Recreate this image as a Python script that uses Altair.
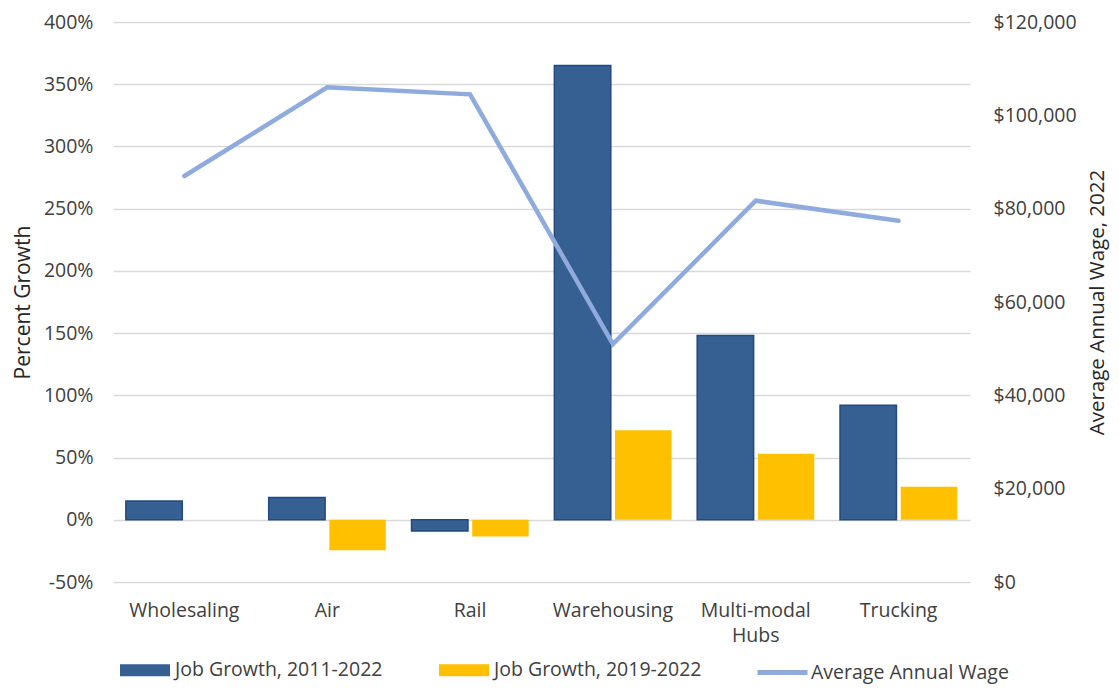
import altair as alt
import pandas as pd

# ---- data ----
categories = ["Wholesaling", "Air", "Rail", "Warehousing", "Multi-modal Hubs", "Trucking"]
growth_2011_2022 = [0.15, 0.18, -0.09, 3.65, 1.48, 0.92]
growth_2019_2022 = [0.0, -0.245, -0.135, 0.72, 0.53, 0.265]
avg_wage = [87000, 106000, 104500, 51000, 81700, 77400]

series_names = ["Job Growth, 2011-2022", "Job Growth, 2019-2022", "Average Annual Wage"]
series_colors = ["#366092", "#FFC000", "#8FAADC"]
bar_strokes = ["#25497C", "transparent"]

pct_ticks = [-0.5, 0, 0.5, 1, 1.5, 2, 2.5, 3, 3.5, 4]
wage_ticks = [0, 20000, 40000, 60000, 80000, 100000, 120000]

FONT = "Open Sans"
FS = 19.5
LABEL_COLOR = "#404040"
TITLE_COLOR = "#262626"

bars_df = pd.DataFrame({
    "category": categories * 2,
    "series": [series_names[0]] * len(categories) + [series_names[1]] * len(categories),
    "growth": growth_2011_2022 + growth_2019_2022,
})
line_df = pd.DataFrame({
    "category": categories,
    "series": [series_names[2]] * len(categories),
    "wage": avg_wage,
})

legend_common = dict(
    title=None,
    orient="none",
    legendY=623,
    direction="horizontal",
    symbolSize=2500,
    labelFont=FONT,
    labelFontSize=FS,
    labelColor=LABEL_COLOR,
    labelLimit=400,
)

bar_legend = alt.Legend(
    legendX=7,
    columns=2,
    columnPadding=56,
    labelOffset=5,
    symbolType="M-1,-0.24H1V0.24H-1Z",
    symbolStrokeWidth=0,
    **legend_common,
)
line_legend = alt.Legend(
    legendX=642,
    labelOffset=1,
    symbolType="stroke",
    symbolStrokeWidth=5,
    **legend_common,
)

x_enc = alt.X(
    "category:N",
    sort=categories,
    scale=alt.Scale(paddingInner=0.18, paddingOuter=0.09),
    axis=alt.Axis(
        title=None,
        labelAngle=0,
        labelExpr="split(datum.label, ' ')",
        labelFont=FONT,
        labelFontSize=FS,
        labelColor=LABEL_COLOR,
        labelPadding=19,
        labelLineHeight=25,
        domain=False,
        ticks=False,
        tickSize=0,
        grid=False,
    ),
)

bars = alt.Chart(bars_df).mark_bar(strokeWidth=1.5).encode(
    x=x_enc,
    xOffset=alt.XOffset("series:N", sort=series_names[:2], scale=alt.Scale(paddingInner=0.07)),
    y=alt.Y(
        "growth:Q",
        scale=alt.Scale(domain=[-0.5, 4], nice=False, zero=False),
        axis=alt.Axis(
            values=pct_ticks,
            labelExpr="(datum.value < 0 ? '-' : '') + format(abs(datum.value), '.0%')",
            title="Percent Growth",
            titleFont=FONT,
            titleFontSize=21,
            titleFontWeight="normal",
            titleColor=TITLE_COLOR,
            titlePadding=10,
            labelFont=FONT,
            labelFontSize=FS,
            labelColor=LABEL_COLOR,
            labelPadding=20,
            domain=False,
            ticks=False,
            tickSize=0,
            grid=True,
            gridColor="#D9D9D9",
            gridWidth=1.5,
        ),
    ),
    fill=alt.Fill("series:N", scale=alt.Scale(domain=series_names[:2], range=series_colors[:2]), legend=bar_legend),
    stroke=alt.condition(
        alt.datum.series == series_names[0], alt.value(bar_strokes[0]), alt.value(bar_strokes[1])
    ),
)

line = alt.Chart(line_df).mark_line(strokeWidth=4.5, strokeCap="round", strokeJoin="miter").encode(
    x=alt.X("category:N", sort=categories),
    y=alt.Y(
        "wage:Q",
        scale=alt.Scale(domain=[0, 120000], nice=False),
        axis=alt.Axis(
            orient="right",
            values=wage_ticks,
            format="$,.0f",
            title="Average Annual Wage, 2022",
            titleAngle=270,
            titleBaseline="top",
            titleFont=FONT,
            titleFontSize=20.5,
            titleFontWeight="normal",
            titleColor=TITLE_COLOR,
            titlePadding=11,
            labelFont=FONT,
            labelFontSize=FS,
            labelColor=LABEL_COLOR,
            labelPadding=23,
            domain=False,
            ticks=False,
            tickSize=0,
            grid=False,
        ),
    ),
    stroke=alt.Stroke("series:N", scale=alt.Scale(domain=series_names[2:], range=series_colors[2:]), legend=line_legend),
)

chart = (
    alt.layer(bars, line)
    .resolve_scale(y="independent")
    .properties(
        width=857,
        height=560,
        autosize=alt.AutoSizeParams(type="none"),
        padding={"left": 105, "top": 14, "right": 141, "bottom": 102},
        background="white",
    )
    .configure_view(stroke=None)
)

chart.save("out.html", embed_options={"renderer": "svg", "actions": False})
